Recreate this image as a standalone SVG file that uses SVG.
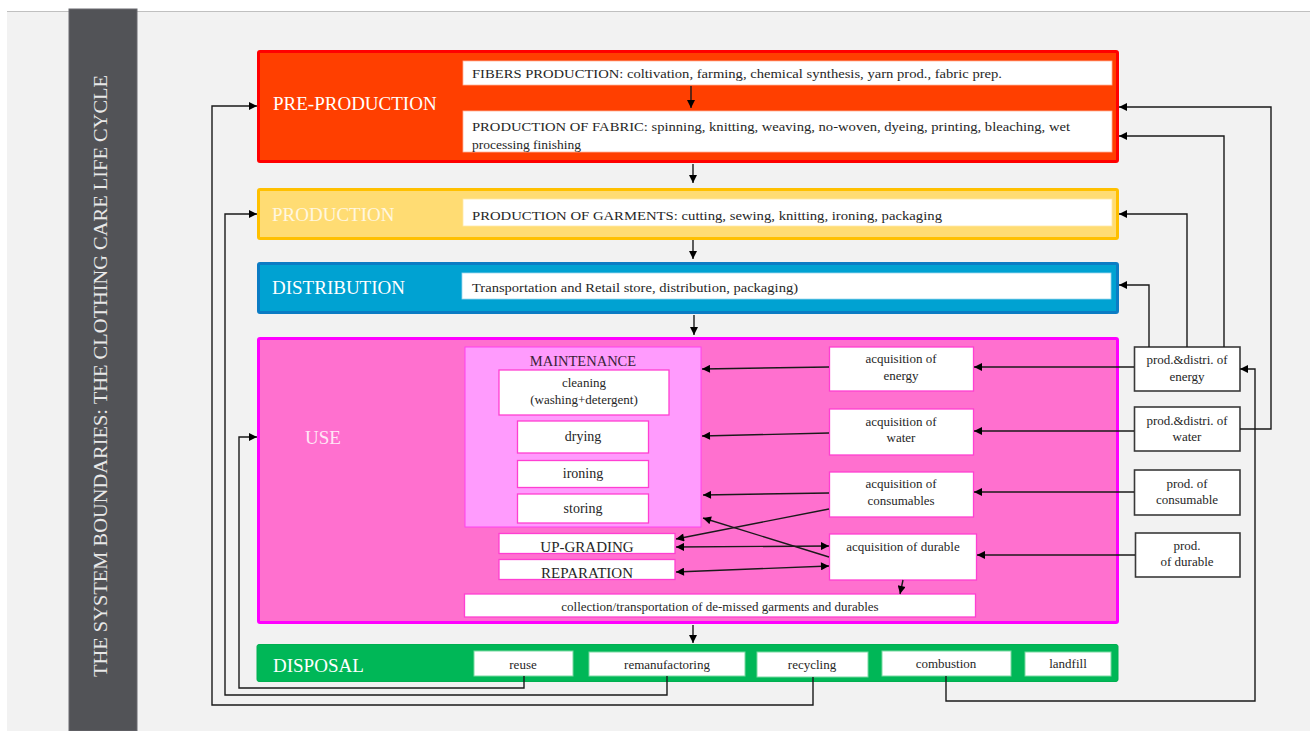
<svg xmlns="http://www.w3.org/2000/svg" width="1310" height="731" viewBox="0 0 1310 731">
<style>
text{font-family:"Liberation Serif","Times New Roman",serif;fill:#262626}
.lbl{font-size:19px;fill:#ffffff}
.t{font-size:13.5px}
.s{font-size:13px;text-anchor:middle}
.m{font-size:14px;text-anchor:middle}
.b{font-size:15px;text-anchor:middle}
.wb{fill:#ffffff}
.pk{fill:#ffffff;stroke:#ff3fd2;stroke-width:1.3}
.gr{fill:#ffffff;stroke:#7ad9a2;stroke-width:1}
.ext{fill:#ffffff;stroke:#3a3a3a;stroke-width:1.6}
.c{fill:none;stroke:#1a1a1a;stroke-width:1.4}
.a{marker-end:url(#ah)}
.d{marker-start:url(#ah);marker-end:url(#ah)}
</style>
<defs>
<marker id="ah" viewBox="0 0 10 10" refX="10" refY="5" markerWidth="9" markerHeight="8" markerUnits="userSpaceOnUse" orient="auto-start-reverse">
<path d="M0,0 L10,5 L0,10 z" fill="#000"/>
</marker>
</defs>
<rect x="0" y="0" width="1310" height="731" fill="#ffffff"/>
<rect x="7" y="11" width="1303" height="720" fill="#f2f2f2"/>
<line x1="7" y1="11.5" x2="1310" y2="11.5" stroke="#c0c0c0" stroke-width="1"/>
<g id="title">
<rect x="69" y="9" width="68" height="722" fill="#525357" stroke="#6a6b70" stroke-width="1"/>
<text transform="translate(107,376) rotate(-90)" text-anchor="middle" style="font-size:19.5px;fill:#e8e8e8" textLength="602" lengthAdjust="spacingAndGlyphs">THE SYSTEM BOUNDARIES: THE CLOTHING CARE LIFE CYCLE</text>
</g>
<g id="pre-production">
<rect x="258.5" y="51.5" width="859" height="110" rx="1.5" fill="#ff3f00" stroke="#ff0000" stroke-width="3"/>
<text class="lbl" x="273" y="110">PRE-PRODUCTION</text>
<rect class="wb" x="463" y="61" width="649" height="24" stroke="#ffb39a" stroke-width="0.8"/>
<text class="t" x="472" y="78" textLength="530" lengthAdjust="spacingAndGlyphs">FIBERS PRODUCTION: coltivation, farming, chemical synthesis, yarn prod., fabric prep.</text>
<rect class="wb" x="463" y="111" width="649" height="41" stroke="#ffb39a" stroke-width="0.8"/>
<text class="t" x="472" y="131" textLength="598" lengthAdjust="spacingAndGlyphs">PRODUCTION OF FABRIC: spinning, knitting, weaving, no-woven, dyeing, printing, bleaching, wet</text>
<text class="t" x="472" y="149">processing finishing</text>
</g>
<g id="production">
<rect x="258.5" y="189.5" width="859" height="49" rx="1.5" fill="#ffdc73" stroke="#ffc000" stroke-width="3"/>
<text class="lbl" x="272" y="221" style="fill:#fff7e0">PRODUCTION</text>
<rect class="wb" x="463" y="199" width="649" height="27" stroke="#ffe9a8" stroke-width="0.8"/>
<text class="t" x="472" y="220" textLength="470" lengthAdjust="spacingAndGlyphs">PRODUCTION OF GARMENTS: cutting, sewing, knitting, ironing, packaging</text>
</g>
<g id="distribution">
<rect x="258.5" y="263.5" width="859" height="49" rx="1.5" fill="#00a2d2" stroke="#0b7cc4" stroke-width="3"/>
<text class="lbl" x="272" y="294">DISTRIBUTION</text>
<rect class="wb" x="462" y="273" width="649" height="26" stroke="#9fd8ee" stroke-width="0.8"/>
<text class="t" x="472" y="292" textLength="326" lengthAdjust="spacingAndGlyphs">Transportation and Retail store, distribution, packaging)</text>
</g>
<g id="use">
<rect x="258.5" y="338.5" width="859" height="284" rx="1.5" fill="#ff70cf" stroke="#ff00ff" stroke-width="3"/>
<text class="lbl" x="305" y="444" style="fill:#ffe6f6">USE</text>
</g>
<g id="maintenance">
<rect x="465" y="347" width="236" height="180" fill="#ff9bfd" stroke="#ff40f0" stroke-width="1"/>
<text x="583" y="366" style="font-size:14.5px;text-anchor:middle;fill:#3a2238">MAINTENANCE</text>
</g>
<g id="cleaning">
<rect class="pk" x="499" y="370" width="170" height="45"/>
<text class="s" x="584" y="387">cleaning</text>
<text class="s" x="584" y="404">(washing+detergent)</text>
</g>
<g id="drying">
<rect class="pk" x="517.5" y="421" width="131" height="32"/>
<text class="m" x="583" y="441">drying</text>
</g>
<g id="ironing">
<rect class="pk" x="517.5" y="460.5" width="131" height="27"/>
<text class="m" x="583" y="478">ironing</text>
</g>
<g id="storing">
<rect class="pk" x="517.5" y="494" width="131" height="29"/>
<text class="m" x="583" y="513">storing</text>
</g>
<g id="upgrading">
<rect class="pk" x="499" y="533.5" width="176" height="20"/>
<text class="b" x="587" y="552">UP-GRADING</text>
</g>
<g id="reparation">
<rect class="pk" x="499" y="559.5" width="176" height="20"/>
<text class="b" x="587" y="578">REPARATION</text>
</g>
<g id="collection">
<rect class="pk" x="464.5" y="594" width="511" height="23"/>
<text class="s" x="720" y="611">collection/transportation of de-missed garments and durables</text>
</g>
<g id="acq-energy">
<rect class="pk" x="829.5" y="347" width="144" height="44"/>
<text class="s" x="901" y="363">acquisition of</text>
<text class="s" x="901" y="380">energy</text>
</g>
<g id="acq-water">
<rect class="pk" x="829.5" y="409" width="144" height="46"/>
<text class="s" x="901" y="426">acquisition of</text>
<text class="s" x="901" y="442">water</text>
</g>
<g id="acq-consumables">
<rect class="pk" x="829.5" y="472" width="144" height="45"/>
<text class="s" x="901" y="488">acquisition of</text>
<text class="s" x="901" y="505">consumables</text>
</g>
<g id="acq-durable">
<rect class="pk" x="829.5" y="534" width="147" height="46"/>
<text class="s" x="903" y="551">acquisition of durable</text>
</g>
<g id="prod-energy">
<rect class="ext" x="1134.5" y="347" width="105.5" height="44"/>
<text class="s" x="1187" y="364">prod.&amp;distri. of</text>
<text class="s" x="1187" y="381">energy</text>
</g>
<g id="prod-water">
<rect class="ext" x="1134.5" y="407" width="105.5" height="44"/>
<text class="s" x="1187" y="425">prod.&amp;distri. of</text>
<text class="s" x="1187" y="441">water</text>
</g>
<g id="prod-consumable">
<rect class="ext" x="1134.5" y="470" width="105.5" height="45"/>
<text class="s" x="1187" y="488">prod. of</text>
<text class="s" x="1187" y="504">consumable</text>
</g>
<g id="prod-durable">
<rect class="ext" x="1135.5" y="533" width="104.5" height="44"/>
<text class="s" x="1187" y="550">prod.</text>
<text class="s" x="1187" y="566">of durable</text>
</g>
<g id="disposal">
<rect x="257" y="644.5" width="861" height="37" rx="2" fill="#00b757" stroke="#00b050" stroke-width="1"/>
<text class="lbl" x="273" y="672">DISPOSAL</text>
</g>
<g id="reuse">
<rect class="gr" x="474" y="651" width="99" height="25"/>
<text class="s" x="523" y="669">reuse</text>
</g>
<g id="remanufactoring">
<rect class="gr" x="589" y="652" width="156" height="24"/>
<text class="s" x="667" y="669">remanufactoring</text>
</g>
<g id="recycling">
<rect class="gr" x="757" y="652" width="111" height="25"/>
<text class="s" x="812" y="669">recycling</text>
</g>
<g id="combustion">
<rect class="gr" x="882" y="651" width="129" height="25"/>
<text class="s" x="946" y="668">combustion</text>
</g>
<g id="landfill">
<rect class="gr" x="1025" y="652" width="86" height="24"/>
<text class="s" x="1068" y="668">landfill</text>
</g>
<g id="connectors">
<path class="c a" d="M691,86 L691,108"/>
<path class="c a" d="M693,164 L693,183"/>
<path class="c a" d="M693,240 L693,259"/>
<path class="c a" d="M694,315 L694,335"/>
<path class="c a" d="M693,625 L693,643"/>
<path class="c a" d="M829,367 L702,369"/>
<path class="c a" d="M829,433 L702,436"/>
<path class="c a" d="M829,493 L703,495"/>
<path class="c a" d="M829,509 L676,539"/>
<path class="c a" d="M829,557 L703,518"/>
<path class="c d" d="M676,547 L829,546"/>
<path class="c d" d="M676,572 L829,566"/>
<path class="c a" d="M903,580 L900,594"/>
<path class="c a" d="M1134,367 L974,367"/>
<path class="c a" d="M1134,431 L974,431"/>
<path class="c a" d="M1134,492 L974,492"/>
<path class="c a" d="M1135,555 L977,555"/>
<path class="c a" d="M1149,347 L1149,285 L1119,285"/>
<path class="c a" d="M1187,347 L1187,214 L1119,214"/>
<path class="c a" d="M1224,347 L1224,136 L1119,136"/>
<path class="c a" d="M1240,429 L1271,429 L1271,107 L1119,107"/>
<path class="c a" d="M946,676 L946,701 L1255,701 L1255,369 L1240,369"/>
<path class="c a" d="M524,676 L524,688 L239,688 L239,437 L257,437"/>
<path class="c a" d="M667,676 L667,695 L225,695 L225,214 L257,214"/>
<path class="c a" d="M813,677 L813,705 L212,705 L212,106 L257,106"/>
</g>
</svg>
